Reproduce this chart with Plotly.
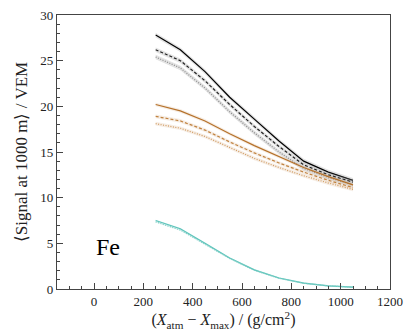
import plotly.graph_objects as go

# depth points (g/cm^2)
x_depth = [250, 350, 450, 550, 650, 750, 850, 950, 1050]

# black / gray group
black_solid = [27.8, 26.2, 23.8, 21.0, 18.6, 16.2, 14.0, 12.8, 11.9]
black_dash = [26.2, 25.0, 22.8, 20.2, 17.8, 15.6, 13.6, 12.5, 11.7]
gray_dot = [25.4, 24.2, 22.0, 19.4, 17.1, 15.0, 13.2, 12.2, 11.4]

# brown group
brown_solid = [20.2, 19.5, 18.4, 17.0, 15.7, 14.5, 13.3, 12.3, 11.4]
brown_dash = [18.9, 18.4, 17.4, 16.1, 14.9, 13.8, 12.8, 11.9, 11.1]
brown_dot = [18.1, 17.6, 16.7, 15.5, 14.3, 13.3, 12.4, 11.6, 10.9]

# cyan group
cyan_solid = [7.5, 6.6, 5.0, 3.4, 2.1, 1.2, 0.65, 0.35, 0.2]
cyan_dash = [7.35, 6.45, 4.9, 3.35, 2.05, 1.18, 0.63, 0.34, 0.2]

series = [
    # values, line colour, dash, band colour, band half-width
    (black_solid, "#000000", "solid", "rgba(160,160,160,0.30)", 0.25),
    (black_dash, "#222222", "3px,2px", "rgba(160,160,160,0.30)", 0.25),
    (gray_dot, "#8a8a8a", "1px,1.5px", "rgba(160,160,160,0.30)", 0.25),
    (brown_solid, "#b5712a", "solid", "rgba(214,175,130,0.22)", 0.2),
    (brown_dash, "#c0823f", "3px,2px", "rgba(214,175,130,0.22)", 0.2),
    (brown_dot, "#d09a60", "1px,1.5px", "rgba(214,175,130,0.22)", 0.2),
    (cyan_solid, "#5cc4bb", "solid", "rgba(120,200,190,0.25)", 0.08),
    (cyan_dash, "#7acfc6", "1px,1.5px", "rgba(120,200,190,0.25)", 0.08),
]

fig = go.Figure()

for ys, color, dash, fillc, band in series:
    # light uncertainty band
    fig.add_trace(go.Scatter(
        x=x_depth + x_depth[::-1],
        y=[v + band for v in ys] + [v - band for v in ys][::-1],
        fill="toself", fillcolor=fillc, line=dict(width=0),
        mode="lines", hoverinfo="skip", showlegend=False))
    fig.add_trace(go.Scatter(
        x=x_depth, y=ys, mode="lines",
        line=dict(color=color, width=1.2, dash=dash),
        showlegend=False))

fig.add_annotation(
    x=0, y=4.6, xref="x", yref="y", text="Fe", showarrow=False,
    xanchor="left", yanchor="middle",
    font=dict(family="Liberation Serif", size=24, color="black"))

axis_common = dict(
    showgrid=False, zeroline=False, showline=True, linecolor="#444",
    linewidth=1.2, mirror=True, ticks="inside", ticklen=6, tickcolor="#444",
    tickfont=dict(family="Liberation Serif", size=13, color="#222"))

fig.update_xaxes(
    range=[-150, 1200], dtick=200, tick0=0,
    minor=dict(dtick=50, ticks="inside", ticklen=3, tickcolor="#444"),
    title=dict(
        text="(<i>X</i><sub>atm</sub> \u2212 <i>X</i><sub>max</sub>) / (g/cm<sup>2</sup>)",
        font=dict(family="Liberation Serif", size=16, color="#222"), standoff=6),
    **axis_common)

fig.update_yaxes(
    range=[0, 30], dtick=5,
    minor=dict(dtick=1, ticks="inside", ticklen=3, tickcolor="#444"),
    title=dict(
        text="\u27e8Signal at 1000 m\u27e9 / VEM",
        font=dict(family="Liberation Serif", size=17, color="#222"), standoff=8),
    **axis_common)

fig.update_layout(
    width=411, height=334,
    margin=dict(l=57, r=13, t=8, b=45),
    plot_bgcolor="white", paper_bgcolor="white",
    font=dict(family="Liberation Serif"))

# drop the default page margin so the figure sits at the window's corner
fig.write_html("out.html", config={"displayModeBar": False},
               post_script="document.body.style.margin='0';")
